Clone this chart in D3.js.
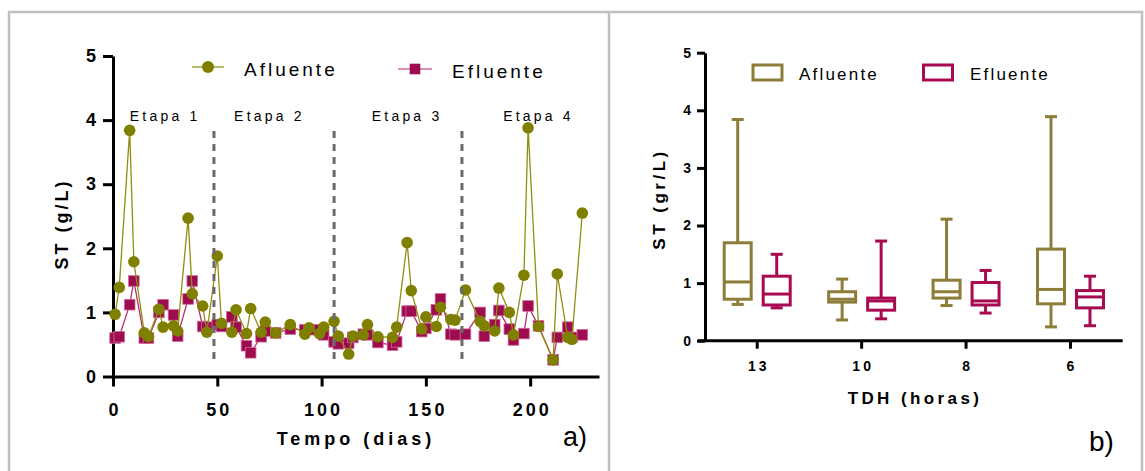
<!DOCTYPE html>
<html>
<head>
<meta charset="utf-8">
<script src="https://cdn.jsdelivr.net/npm/d3@7"></script>
<style>
  body { margin: 0; background: #fff; }
  svg { display: block; font-family: "Liberation Sans", Arial, sans-serif; }
</style>
</head>
<body>
<svg id="chart" width="1145" height="471"></svg>
<script>
// ---- data, panel a ----
var dias = [1, 3, 8, 10, 15, 17, 22, 24, 29, 31, 36, 38, 43, 45, 50, 52, 57, 59, 64, 66,
  71, 73, 78, 85, 92, 94, 99, 101, 106, 108, 113, 115, 120, 122, 127, 134, 136, 141, 143, 148,
  150, 155, 157, 162, 164, 169, 176, 178, 183, 185, 190, 192, 197, 199, 204, 211, 213, 218, 220, 225]
var afluente = [0.97, 1.39, 3.84, 1.79, 0.68, 0.62, 1.05, 0.77, 0.79, 0.71,
  2.47, 1.29, 1.10, 0.69, 1.88, 0.83, 0.69, 1.04, 0.67, 1.06,
  0.69, 0.85, 0.68, 0.81, 0.66, 0.76, 0.67, 0.77, 0.86, 0.63,
  0.35, 0.63, 0.65, 0.81, 0.62, 0.61, 0.77, 2.09, 1.34, 0.74,
  0.93, 0.78, 1.08, 0.89, 0.88, 1.35, 0.86, 0.79, 0.71, 1.38,
  1.00, 0.65, 1.58, 3.88, 0.78, 0.26, 1.60, 0.61, 0.58, 2.55]
var efluente = [0.60, 0.62, 1.12, 1.49, 0.60, 0.60, 1.00, 1.12, 0.96, 0.63,
  1.21, 1.49, 0.78, 0.77, 0.81, 0.78, 0.93, 0.77, 0.48, 0.37,
  0.62, 0.71, 0.68, 0.74, 0.73, 0.73, 0.73, 0.65, 0.54, 0.51,
  0.52, 0.61, 0.66, 0.65, 0.53, 0.49, 0.54, 1.02, 1.02, 0.70,
  0.75, 1.04, 1.21, 0.66, 0.65, 0.66, 1.00, 0.63, 0.81, 1.03,
  0.74, 0.57, 0.67, 1.10, 0.79, 0.26, 0.61, 0.77, 0.61, 0.65]
var etapas = ["Etapa 1", "Etapa 2", "Etapa 3", "Etapa 4"]
var etapaDia = [25, 75, 141, 204]
var limites = [48.4, 106, 167.3]
var ticksA = [0, 50, 100, 150, 200]
var ticksY = [0, 1, 2, 3, 4, 5]

// ---- data, panel b: [min, q1, mediana, q3, max] ----
var tdh = ["13", "10", "8", "6"]
var boxAfl = [[0.63, 0.72, 1.02, 1.70, 3.84],
              [0.36, 0.67, 0.72, 0.85, 1.07],
              [0.61, 0.74, 0.85, 1.05, 2.11],
              [0.24, 0.64, 0.89, 1.59, 3.89]]
var boxEfl = [[0.57, 0.62, 0.81, 1.12, 1.50],
              [0.38, 0.53, 0.69, 0.74, 1.73],
              [0.48, 0.62, 0.69, 1.01, 1.22],
              [0.26, 0.57, 0.76, 0.87, 1.12]]

var olive = "#808000", oliveLine = "#8f8f10"
var wine = "#9e0b4f", wineLine = "#b53070"
var boxOlive = "#8c7d39", boxWine = "#a80a52"

var svg = d3.select("#chart")

// frame
svg.append("rect").attr("x", 9).attr("y", 12).attr("width", 1133).attr("height", 480)
  .attr("fill", "none").attr("stroke", "#c0c0c0").attr("stroke-width", 2.5)
svg.append("line").attr("x1", 609).attr("x2", 609).attr("y1", 12).attr("y2", 471)
  .attr("stroke", "#c0c0c0").attr("stroke-width", 2.5)

var styleAxis = function(g, size, ls)
{
  g.selectAll("path").attr("stroke", "#000").attr("stroke-width", 3)
  g.selectAll("line").attr("stroke", "#000").attr("stroke-width", 3)
  g.selectAll("text").attr("fill", "#000").style("font-size", size + "px")
    .style("font-weight", "bold").style("letter-spacing", ls + "px")
    .attr("dx", (ls / 2) + "px")
  g.attr("font-family", null)
}

// ================= panel a =================
var xA = d3.scaleLinear().domain([0, 233]).range([113, 599])
var yA = d3.scaleLinear().domain([0, 5]).range([376.5, 56])

var gxA = svg.append("g").attr("transform", "translate(0," + yA(0) + ")")
  .call(d3.axisBottom(xA).tickValues(ticksA).tickFormat(d3.format("d"))
    .tickSize(10).tickSizeOuter(0).tickPadding(17))
styleAxis(gxA, 18, 3)
var gyA = svg.append("g").attr("transform", "translate(" + xA(0) + ",0)")
  .call(d3.axisLeft(yA).tickValues(ticksY).tickFormat(d3.format("d"))
    .tickSize(10).tickSizeOuter(0).tickPadding(7))
styleAxis(gyA, 18, 0)

svg.append("text").attr("x", 356).attr("y", 445).attr("text-anchor", "middle")
  .style("font-size", "18px").style("font-weight", "bold").style("letter-spacing", "4px")
  .text("Tempo (dias)")
svg.append("text").attr("transform", "translate(68,224) rotate(-90)").attr("text-anchor", "middle")
  .style("font-size", "18px").style("font-weight", "bold").style("letter-spacing", "3px")
  .text("ST (g/L)")
svg.append("text").attr("x", 563).attr("y", 446).style("font-size", "27px").text("a)")

var pts = dias.map(function(d, i) { return {x: d, a: afluente[i], e: efluente[i]} })

svg.append("path").datum(pts)
  .attr("d", d3.line().x(function(p) { return xA(p.x) }).y(function(p) { return yA(p.e) }))
  .attr("fill", "none").attr("stroke", wineLine).attr("stroke-width", 1.3)
svg.selectAll("rect.ef").data(pts).enter().append("rect").attr("class", "ef")
  .attr("x", function(p) { return xA(p.x) - 5.3 })
  .attr("y", function(p) { return yA(p.e) - 5.3 })
  .attr("width", 10.6).attr("height", 10.6)
  .attr("fill", wine).attr("stroke", "#d0689a").attr("stroke-width", 0.8)

svg.append("path").datum(pts)
  .attr("d", d3.line().x(function(p) { return xA(p.x) }).y(function(p) { return yA(p.a) }))
  .attr("fill", "none").attr("stroke", oliveLine).attr("stroke-width", 1.3)
svg.selectAll("circle.af").data(pts).enter().append("circle").attr("class", "af")
  .attr("cx", function(p) { return xA(p.x) })
  .attr("cy", function(p) { return yA(p.a) })
  .attr("r", 5.8).attr("fill", olive)

svg.selectAll("line.lim").data(limites).enter().append("line").attr("class", "lim")
  .attr("x1", function(d) { return xA(d) }).attr("x2", function(d) { return xA(d) })
  .attr("y1", yA(3.83)).attr("y2", yA(0.22))
  .attr("stroke", "#6a6a6a").attr("stroke-width", 3).attr("stroke-dasharray", "7,6")

svg.selectAll("text.etapa").data(etapas).enter().append("text").attr("class", "etapa")
  .attr("x", function(d, i) { return xA(etapaDia[i]) }).attr("y", 121)
  .attr("text-anchor", "middle")
  .style("font-size", "14px").style("letter-spacing", "3.2px")
  .text(function(d) { return d })

// legend a
svg.append("line").attr("x1", 192).attr("x2", 224).attr("y1", 67).attr("y2", 67)
  .attr("stroke", "#a0a040").attr("stroke-width", 1.5)
svg.append("circle").attr("cx", 208).attr("cy", 67).attr("r", 6).attr("fill", olive)
svg.append("text").attr("x", 244).attr("y", 76).style("font-size", "19px")
  .style("letter-spacing", "3px").text("Afluente")
svg.append("line").attr("x1", 398).attr("x2", 432).attr("y1", 69).attr("y2", 69)
  .attr("stroke", "#d06a98").attr("stroke-width", 1.5)
svg.append("rect").attr("x", 409.7).attr("y", 63.7).attr("width", 10.6).attr("height", 10.6).attr("fill", wine)
svg.append("text").attr("x", 452).attr("y", 78).style("font-size", "19px")
  .style("letter-spacing", "3px").text("Efluente")

// ================= panel b =================
var xB = d3.scaleBand().domain(tdh).range([705, 1122.7])
var yB = d3.scaleLinear().domain([0, 5]).range([340.7, 52.7])

var gxB = svg.append("g").attr("transform", "translate(0," + yB(0) + ")")
  .call(d3.axisBottom(xB).tickSize(8).tickSizeOuter(0).tickPadding(12))
styleAxis(gxB, 14, 3)
gxB.select("path").attr("d", "M698,0H1122.7")
var gyB = svg.append("g").attr("transform", "translate(705,0)")
  .call(d3.axisLeft(yB).tickValues(ticksY).tickFormat(d3.format("d"))
    .tickSize(8).tickSizeOuter(0).tickPadding(6))
styleAxis(gyB, 14, 0)

svg.append("text").attr("x", 915).attr("y", 404).attr("text-anchor", "middle")
  .style("font-size", "17px").style("font-weight", "bold").style("letter-spacing", "3.4px")
  .text("TDH (horas)")
svg.append("text").attr("transform", "translate(665,199) rotate(-90)").attr("text-anchor", "middle")
  .style("font-size", "17px").style("font-weight", "bold").style("letter-spacing", "3.5px")
  .text("ST (gr/L)")
svg.append("text").attr("x", 1089).attr("y", 451).style("font-size", "28px").text("b)")

var drawBoxes = function(stats, offset, color)
{
  var bw = 27, cap = 12
  var g = svg.append("g").selectAll("g").data(stats).enter().append("g")
    .attr("transform", function(d, i) { return "translate(" + (xB(tdh[i]) + xB.bandwidth() / 2 + offset) + ",0)" })
  g.append("line").attr("y1", function(d) { return yB(d[0]) }).attr("y2", function(d) { return yB(d[1]) })
  g.append("line").attr("y1", function(d) { return yB(d[3]) }).attr("y2", function(d) { return yB(d[4]) })
  g.append("line").attr("x1", -cap / 2).attr("x2", cap / 2)
    .attr("y1", function(d) { return yB(d[0]) }).attr("y2", function(d) { return yB(d[0]) })
  g.append("line").attr("x1", -cap / 2).attr("x2", cap / 2)
    .attr("y1", function(d) { return yB(d[4]) }).attr("y2", function(d) { return yB(d[4]) })
  g.append("rect").attr("x", -bw / 2).attr("width", bw)
    .attr("y", function(d) { return yB(d[3]) })
    .attr("height", function(d) { return yB(d[1]) - yB(d[3]) })
    .attr("fill", "#fff")
  g.append("line").attr("x1", -bw / 2).attr("x2", bw / 2)
    .attr("y1", function(d) { return yB(d[2]) }).attr("y2", function(d) { return yB(d[2]) })
  g.selectAll("line, rect").attr("stroke", color).attr("stroke-width", 3)
}
drawBoxes(boxAfl, -19.5, boxOlive)
drawBoxes(boxEfl, 19.5, boxWine)

// legend b
svg.append("rect").attr("x", 753).attr("y", 65).attr("width", 29).attr("height", 15)
  .attr("fill", "#fff").attr("stroke", boxOlive).attr("stroke-width", 3)
svg.append("text").attr("x", 799).attr("y", 80).style("font-size", "17px")
  .style("letter-spacing", "2.2px").text("Afluente")
svg.append("rect").attr("x", 923.5).attr("y", 65).attr("width", 29).attr("height", 15)
  .attr("fill", "#fff").attr("stroke", boxWine).attr("stroke-width", 3)
svg.append("text").attr("x", 970).attr("y", 80).style("font-size", "17px")
  .style("letter-spacing", "2.2px").text("Efluente")
</script>
</body>
</html>
